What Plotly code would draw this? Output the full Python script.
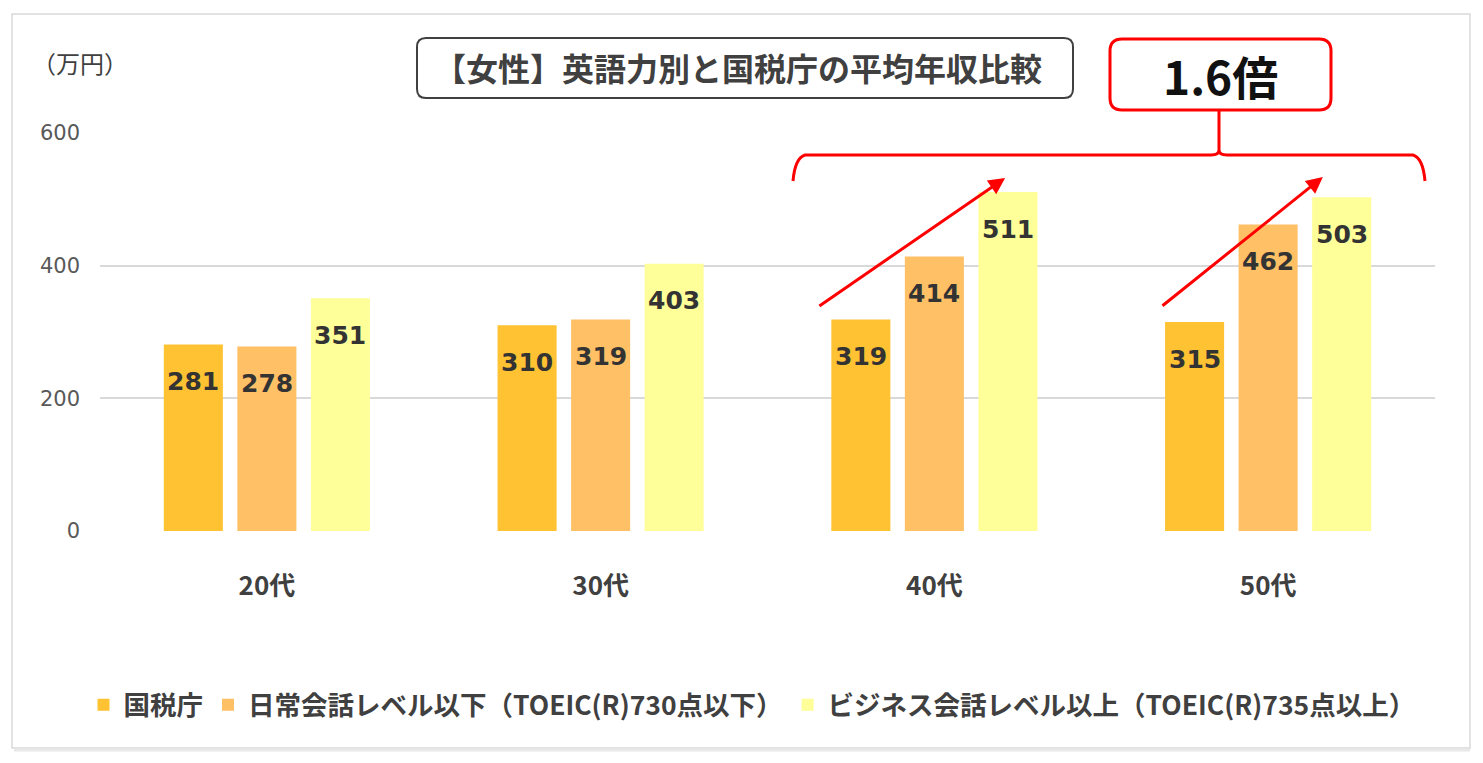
import plotly.graph_objects as go

# data (万円)
ages = ["20代", "30代", "40代", "50代"]
series_names = [
    "国税庁",
    "日常会話レベル以下（TOEIC(R)730点以下）",
    "ビジネス会話レベル以上（TOEIC(R)735点以上）",
]
nta = [281, 310, 319, 315]
daily = [278, 319, 414, 462]
business = [351, 403, 511, 503]
y_ticks = [0, 200, 400, 600]

colors = ["#FFC232", "#FFC066", "#FFFF99"]
JP = "Noto Sans CJK JP, sans-serif"
NUM = "DejaVu Sans, Noto Sans CJK JP, sans-serif"

# page has an 8px body margin, so the figure is a bit smaller than the window
OFF = 8
W, H = 1483 - OFF, 763 - OFF
L, R, T, B = 100 - OFF, 48, 133 - OFF, 232
PW, PH = W - L - R, H - T - B


def px(x, y):
    """screen pixel position -> paper coords"""
    return (x - OFF - L) / PW, (H - B - (y - OFF)) / PH


def rounded_rect(x0, y0, x1, y1, r):
    """rounded rectangle path in paper coords"""
    rx, ry = r / PW, r / PH
    a, d = px(x0, y0)
    c, b = px(x1, y1)
    return (
        f"M {a + rx},{d} L {c - rx},{d} Q {c},{d} {c},{d - ry} "
        f"L {c},{b + ry} Q {c},{b} {c - rx},{b} L {a + rx},{b} "
        f"Q {a},{b} {a},{b + ry} L {a},{d - ry} Q {a},{d} {a + rx},{d} Z"
    )


def paper_text(x, y, text, **font):
    ax_, ay_ = px(x, y)
    fig.add_annotation(x=ax_, y=ay_, xref="paper", yref="paper", xanchor="center",
                       yanchor="middle", showarrow=False, text=text, font=font)


fig = go.Figure()
for name, vals, col in zip(series_names, [nta, daily, business], colors):
    fig.add_trace(go.Bar(x=ages, y=vals, name=name, marker_color=col, marker_line_width=0))

# value labels sitting inside the top of each bar
slot = PW / len(ages) * (1 - 0.339) / 3
for i, vals in enumerate([nta, daily, business]):
    for age, v in zip(ages, vals):
        fig.add_annotation(
            x=age, y=v, xref="x", yref="y", text=str(v), showarrow=False,
            xshift=(i - 1) * slot, yshift=-37,
            font=dict(family=NUM, size=25, color="#333333", weight="bold"),
        )

# red arrows (x in category index units)
for (x0, y0), (x1, y1) in [((1.651, 337.7), (2.212, 532.2)), ((2.679, 337.7), (3.164, 533.7))]:
    fig.add_annotation(
        x=x1, y=y1, ax=x0, ay=y0, xref="x", yref="y", axref="x", ayref="y",
        text="", showarrow=True, arrowhead=2, arrowsize=1.1, arrowwidth=3,
        arrowcolor="#FF0000",
    )

# outer frame
fx0, fy0 = px(12, 14)
fx1, fy1 = px(1470, 748)
fig.add_shape(type="rect", xref="paper", yref="paper", x0=fx0, y0=fy0, x1=fx1, y1=fy1,
              line=dict(color="#D9D9D9", width=1.5), layer="below")
sx0, sy = px(14, 750)
sx1, _ = px(1470, 750)
fig.add_shape(type="line", xref="paper", yref="paper", x0=sx0, y0=sy, x1=sx1, y1=sy,
              line=dict(color="#E8E8E8", width=3))

# title box
fig.add_shape(type="path", xref="paper", yref="paper", path=rounded_rect(417, 38, 1073, 98, 9),
              line=dict(color="#404040", width=2))
paper_text(738, 67, "【女性】英語力別と国税庁の平均年収比較",
           family=JP, size=32, color="#404040", weight="bold")

# 1.6倍 callout + bracket
fig.add_shape(type="path", xref="paper", yref="paper", path=rounded_rect(1110, 39, 1331, 110, 12),
              line=dict(color="#FF0000", width=3))
paper_text(1220, 75, "1.6倍", family=JP, size=46, color="#111111", weight="bold")
p = [px(*pt) for pt in [(793, 181), (795, 158), (805, 155), (1211, 155), (1219, 150), (1219, 110),
                         (1219, 150), (1227, 155), (1413, 155), (1423, 158), (1425, 181)]]
path = (
    f"M {p[0][0]},{p[0][1]} Q {p[1][0]},{p[1][1]} {p[2][0]},{p[2][1]} "
    f"L {p[3][0]},{p[3][1]} Q {p[5][0]},{p[3][1]} {p[4][0]},{p[4][1]} L {p[5][0]},{p[5][1]} "
    f"M {p[6][0]},{p[6][1]} Q {p[6][0]},{p[7][1]} {p[7][0]},{p[7][1]} L {p[8][0]},{p[8][1]} "
    f"Q {p[9][0]},{p[9][1]} {p[10][0]},{p[10][1]}"
)
fig.add_shape(type="path", xref="paper", yref="paper", path=path,
              line=dict(color="#FF0000", width=3))

# unit label
paper_text(80, 62, "（万円）", family=JP, size=24, color="#404040")

lx, ly = px(752, 705)
fig.update_layout(
    width=W, height=H,
    margin=dict(l=L, r=R, t=T, b=B),
    paper_bgcolor="white", plot_bgcolor="white",
    barmode="group", bargap=0.339, bargroupgap=0.197,
    showlegend=True,
    legend=dict(orientation="h", x=lx, y=ly, xanchor="center", yanchor="middle",
                font=dict(family=JP, size=26.5, color="#404040", weight="bold"),
                itemsizing="constant", traceorder="normal"),
    xaxis=dict(showgrid=False, showline=False, ticks="", ticklabelstandoff=37,
               tickfont=dict(family=JP, size=26, color="#404040", weight="bold")),
    yaxis=dict(range=[0, 600], tickvals=y_ticks, showgrid=True, gridcolor="#D9D9D9",
               gridwidth=2, zeroline=False, showline=False, ticklabelstandoff=19,
               tickfont=dict(family=NUM, size=21, color="#595959")),
)

fig.write_html("out.html")
